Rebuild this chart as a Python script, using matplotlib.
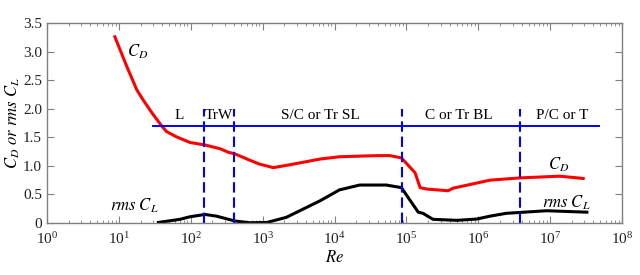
import numpy as np
import matplotlib
matplotlib.use("Agg")
import matplotlib.pyplot as plt
from matplotlib.ticker import LogLocator, LogFormatterMathtext, NullFormatter

plt.rcParams['font.family'] = ['Liberation Serif', 'DejaVu Serif']
plt.rcParams['mathtext.fontset'] = 'stix'

# drag coefficient C_D vs Re
cd_re = [8.8, 12.9, 17.8, 21.9, 28.8, 39.4, 46.2, 63.1, 97.7, 158, 257, 331, 412,
         661, 912, 1410, 2400, 6310, 11700, 38500, 58900, 85100, 132000, 155000,
         191000, 380000, 447000, 1.45e6, 3.8e6, 1.36e7, 2.88e7]
cd = [3.26, 2.74, 2.33, 2.15, 1.93, 1.70, 1.60, 1.51, 1.41, 1.366, 1.30, 1.24, 1.21,
      1.10, 1.03, 0.97, 1.02, 1.12, 1.16, 1.18, 1.18, 1.14, 0.88, 0.62,
      0.595, 0.565, 0.61, 0.75, 0.79, 0.82, 0.78]

# rms lift coefficient vs Re
cl_re = [35.5, 70.8, 97.7, 158, 229, 412, 661, 1150, 2140, 6310, 11700, 22400,
         52500, 85100, 112000, 146000, 170000, 234000, 501000, 955000, 1.45e6,
         2.45e6, 8.9e6, 3.24e7]
cl = [0.01, 0.065, 0.11, 0.15, 0.12, 0.035, 0.005, 0.01, 0.10, 0.39, 0.58, 0.665,
      0.665, 0.62, 0.40, 0.19, 0.17, 0.065, 0.047, 0.07, 0.12,
      0.17, 0.215, 0.19]

# flow regimes
bounds = [155, 405, 8.7e4, 3.8e6]
regime_names = ['L', 'TrW', 'S/C or Tr SL', 'C or Tr BL', 'P/C or T']
regime_pos = [69, 245, 6300, 5.4e5, 1.45e7]
bar_start, bar_end, bar_y = 30, 4.7e7, 1.70

fig = plt.figure(figsize=(6.4, 2.75), dpi=100)
ax = fig.add_axes([0.0734, 0.189, 0.8986, 0.727])

ax.plot(cd_re, cd, color='#ff0000', lw=2.2)
ax.plot(cl_re, cl, color='black', lw=2.2)

ax.plot([bar_start, bar_end], [bar_y, bar_y], color='#0000ff', lw=1.4)
for b in bounds:
    ax.plot([b, b], [0, 2.0], color='#0000ff', lw=1.5, linestyle=(0, (5, 2.3)))
for name, x in zip(regime_names, regime_pos):
    ax.text(x, 1.89, name, ha='center', va='center', fontsize=11)

ax.text(13, 3.0, r'$C_D$', fontsize=12, ha='left', va='center')
ax.text(1.3e7, 1.02, r'$C_D$', fontsize=12, ha='center', va='center')
ax.text(1.7e7, 0.36, r'$rms\ C_L$', fontsize=12, ha='center', va='center')
ax.text(16.5, 0.30, r'$rms\ C_L$', fontsize=12, ha='center', va='center')

ax.set_xscale('log')
ax.set_xlim(1, 1e8)
ax.set_ylim(0, 3.5)
ax.xaxis.set_major_locator(LogLocator(base=10, numticks=12))
ax.xaxis.set_minor_locator(LogLocator(base=10, subs=np.arange(2, 10), numticks=12))
ax.xaxis.set_major_formatter(LogFormatterMathtext())
ax.xaxis.set_minor_formatter(NullFormatter())
ax.set_yticks(np.arange(0, 3.6, 0.5))
ax.set_yticklabels(['0', '0.5', '1.0', '1.5', '2.0', '2.5', '3.0', '3.5'])

for s in ax.spines.values():
    s.set_color('#808080')
    s.set_linewidth(1.0)
ax.tick_params(which='both', direction='in', top=True, right=True, color='#808080',
               labelsize=11, labelcolor='#222222')
ax.tick_params(which='major', length=5)
ax.tick_params(which='minor', length=2.5)
ax.tick_params(axis='x', pad=6)

ax.set_xlabel(r'$Re$', fontsize=12, labelpad=2)
ax.set_ylabel(r'$C_D\ or\ rms\ C_L$', fontsize=12)
ax.yaxis.set_label_coords(-0.043, 0.5)

fig.savefig('out.png', dpi=100)
